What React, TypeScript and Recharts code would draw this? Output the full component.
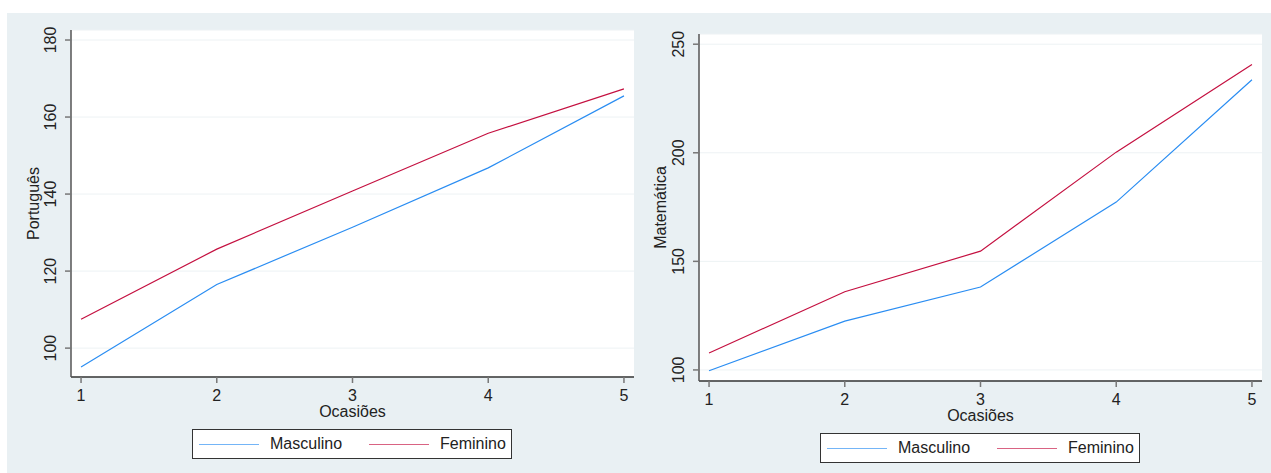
import React from "react";
import { LineChart, Line, XAxis, YAxis, CartesianGrid } from "recharts";

// mean scores per occasion
const occasions = [1, 2, 3, 4, 5];
const portMasc = [95.1, 116.5, 131.4, 146.8, 165.5];
const portFem = [107.5, 125.7, 140.8, 155.8, 167.3];
const matMasc = [99.6, 122.5, 138.2, 177.3, 233.6];
const matFem = [107.8, 136.0, 154.7, 200.3, 240.6];

const portTicks = [100, 120, 140, 160, 180];
const matTicks = [100, 150, 200, 250];

const BLUE = "#2a8df2";
const RED = "#c41040";
const BG = "#e9f0f3";
const FONT = "'Liberation Sans', Arial, sans-serif";

const portData = occasions.map((o, i) => ({ o, masc: portMasc[i], fem: portFem[i] }));
const matData = occasions.map((o, i) => ({ o, masc: matMasc[i], fem: matFem[i] }));

const YTick = (props: any) => {
  const { x, y, payload } = props;
  return (
    <g transform={`translate(${x - 5},${y})`}>
      <text transform="rotate(-90)" textAnchor="middle" fontSize={16} fill="#222" fontFamily={FONT}>
        {payload.value}
      </text>
    </g>
  );
};

const XTick = (props: any) => {
  const { x, y, payload } = props;
  return (
    <text x={x} y={y} dy={16} textAnchor="middle" fontSize={16} fill="#222" fontFamily={FONT}>
      {payload.value}
    </text>
  );
};

function yTitle(text: string, cx: number, cy: number) {
  return () => (
    <g transform={`translate(${cx},${cy})`}>
      <text transform="rotate(-90)" textAnchor="middle" fontSize={16} fill="#222" fontFamily={FONT}>
        {text}
      </text>
    </g>
  );
}

function xTitle(text: string, cx: number, cy: number) {
  return () => (
    <text x={cx} y={cy} textAnchor="middle" fontSize={16} fill="#222" fontFamily={FONT}>
      {text}
    </text>
  );
}

function LegendBox({ left, top }: { left: number; top: number }) {
  const item = (color: string, label: string, ml: number) => (
    <div style={{ display: "flex", alignItems: "center", marginLeft: ml }}>
      <div style={{ width: 60, height: 0, borderTop: `1.5px solid ${color}`, opacity: 0.65 }} />
      <span style={{ marginLeft: 11, fontSize: 16, color: "#222" }}>{label}</span>
    </div>
  );
  return (
    <div
      style={{
        position: "absolute",
        left,
        top,
        width: 318,
        height: 28,
        background: "#fff",
        border: "1px solid #333",
        display: "flex",
        alignItems: "center",
        fontFamily: FONT,
      }}
    >
      {item(BLUE, "Masculino", 6)}
      {item(RED, "Feminino", 27)}
    </div>
  );
}

function Panel(props: {
  data: any[];
  width: number;
  margin: any;
  yDomain: [number, number];
  yTicks: number[];
  yLabel: string;
  yLabelX: number;
  plotTop: number;
  plotBottom: number;
  plotLeft: number;
  plotRight: number;
}) {
  const { data, width, margin, yDomain, yTicks, yLabel, yLabelX, plotTop, plotBottom, plotLeft, plotRight } = props;
  return (
    <LineChart width={width} height={473} data={data} margin={margin}>
      <CartesianGrid vertical={false} stroke="#edf2f4" fill="#ffffff" />
      <XAxis
        dataKey="o"
        type="number"
        domain={[0.926, 5.074]}
        ticks={occasions}
        allowDataOverflow
        height={30}
        tick={<XTick />}
        tickSize={6}
        tickMargin={2}
        stroke="#333"
        strokeWidth={1.5}
        tickLine={{ stroke: "#777" }}
        label={{ content: xTitle("Ocasiões", (plotLeft + plotRight) / 2, plotBottom + 40) }}
      />
      <YAxis
        type="number"
        domain={yDomain}
        ticks={yTicks}
        allowDataOverflow
        width={40}
        tick={<YTick />}
        tickSize={6}
        tickMargin={4}
        stroke="#555"
        strokeWidth={1.5}
        tickLine={{ stroke: "#777" }}
        label={{ content: yTitle(yLabel, yLabelX, (plotTop + plotBottom) / 2) }}
      />
      <Line dataKey="masc" stroke={BLUE} strokeWidth={1.2} dot={false} isAnimationActive={false} />
      <Line dataKey="fem" stroke={RED} strokeWidth={1.2} dot={false} isAnimationActive={false} />
    </LineChart>
  );
}

export default function App() {
  return (
    <div style={{ position: "absolute", left: 0, top: 0, width: 1271, height: 473, background: "#fff", overflow: "hidden" }}>
      <div style={{ position: "absolute", left: 7, top: 13, width: 1264, height: 460, background: BG }} />
      <div style={{ position: "absolute", left: 0, top: 0 }}>
        <Panel
          data={portData}
          width={640}
          margin={{ top: 30, right: 6, left: 31, bottom: 66 }}
          yDomain={[92.5, 182.6]}
          yTicks={portTicks}
          yLabel="Português"
          yLabelX={39}
          plotTop={30}
          plotBottom={377}
          plotLeft={71}
          plotRight={634}
        />
      </div>
      <div style={{ position: "absolute", left: 640, top: 0 }}>
        <Panel
          data={matData}
          width={631}
          margin={{ top: 34, right: 9, left: 19, bottom: 62 }}
          yDomain={[94.9, 254.7]}
          yTicks={matTicks}
          yLabel="Matemática"
          yLabelX={26}
          plotTop={34}
          plotBottom={381}
          plotLeft={59}
          plotRight={622}
        />
      </div>
      <LegendBox left={192} top={429} />
      <LegendBox left={820} top={433} />
    </div>
  );
}
